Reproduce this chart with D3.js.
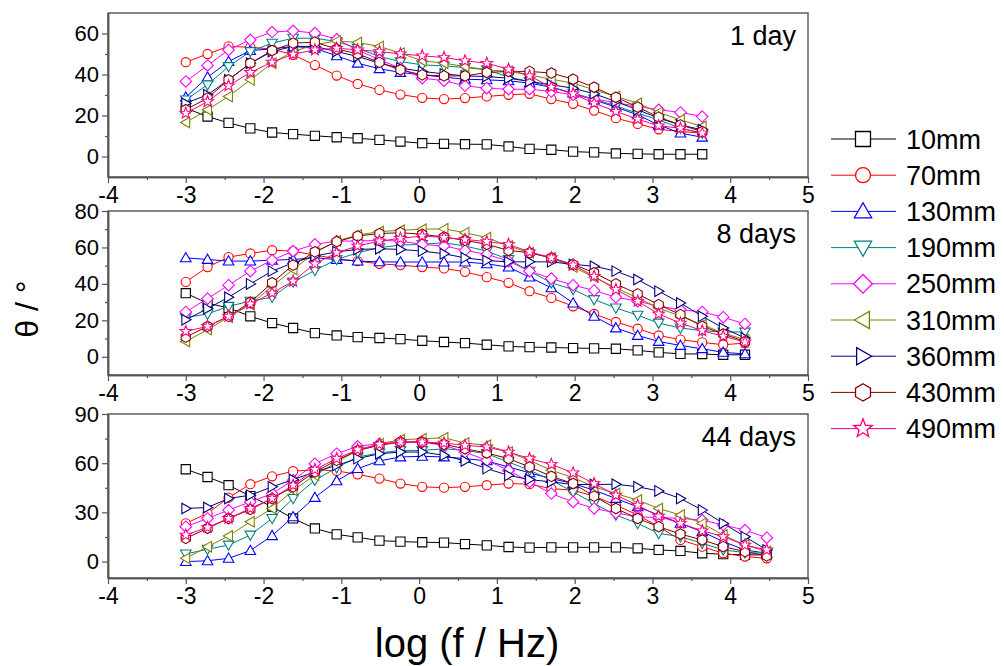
<!DOCTYPE html>
<html lang="en">
<head>
<meta charset="UTF-8">
<title>Contact angle vs frequency</title>
<script src="https://d3js.org/d3.v7.min.js"></script>
<style>
  body { margin: 0; background: #fff; font-family: Arial, "Liberation Sans", sans-serif; }
  .tick text { font-family: Arial, "Liberation Sans", sans-serif; fill: #000; }
  .tick line, .domain { stroke: #555; }
</style>
</head>
<body>
<div id="chart"></div>
<script>
// log frequency positions of the measured points
var logF = [-3.00, -2.72, -2.45, -2.17, -1.89, -1.62, -1.34, -1.06, -0.79, -0.51, -0.24, 0.04,
            0.32, 0.59, 0.87, 1.15, 1.42, 1.70, 1.98, 2.25, 2.53, 2.81, 3.08, 3.36, 3.64, 3.91, 4.19, 4.47];

var seriesNames = ["10mm", "70mm", "130mm", "190mm", "250mm", "310mm", "360mm", "430mm", "490mm"];
var seriesColors = ["#000000", "#ff0000", "#0000ff", "#008080", "#ff00ff", "#808000", "#000080", "#800000", "#ff0080"];
var seriesShapes = ["square", "circle", "up", "down", "diamond", "left", "right", "hexagon", "star"];

var panelLabels = ["1 day", "8 days", "44 days"];
var xTicks = [-4, -3, -2, -1, 0, 1, 2, 3, 4, 5];

// theta values, one row per series
var day1Values = [
  [23.6,19.5,16.4,13.7,11.7,10.9,10.1,9.4,8.9,8.1,7.3,6.5,6.2,6.0,5.9,4.9,3.7,3.3,2.4,2.0,1.5,1.3,1.1,1.1,1.1],
  [46,50,53.7,53.3,52.4,49.6,44.6,39.5,35.4,32.5,30.2,28.6,28.0,28.5,29.3,30.1,30.6,28,25.7,22.4,18.7,15.9,13.3,12.2,11.4],
  [28.9,38.7,46.3,51.7,52.5,53.7,52.8,49.1,45.5,42.8,41.0,39.8,38.7,37.7,37.4,36.9,35.8,33.8,30.9,27.6,24.1,20.3,15.4,11.4,9.4],
  [27.6,35,43.9,51.2,55.3,57.7,57.7,56.1,52.8,48.8,46.3,44.7,44.2,43.4,42.3,38.7,36.6,33.8,30.9,28,24.7,21.1,17.9,13.8,11.4],
  [36.6,44.4,52,56.9,60.7,61.3,60.2,57.2,52,47.2,43.1,38.2,37.0,34.5,33.3,32.8,32.8,31.7,30.1,28.1,26.3,24.4,22.8,21.5,19.5],
  [16.6,22.8,29.3,37.4,45.5,51.2,54.5,56.4,55.6,53.7,50.4,46.7,45.5,43.9,42.3,41.5,39.8,37.7,35.8,32.5,29.3,26,21.5,17.9,14.6],
  [26,30.1,37.4,45.5,51.2,53.7,53.7,51.2,48.8,45.5,43.1,41.5,40.3,39.3,39,38.2,36.6,35,33.3,30.6,26.8,22.8,18.7,15.4,13],
  [22.8,28.5,37.4,45.5,51.7,55.3,55.8,52.4,50.1,45.9,42.3,39.8,39.3,39.3,41,41.5,41.5,40.7,37.7,33.8,28.9,24.1,19.2,15.4,12.2],
  [21.1,26.8,34.5,41,46,49.9,52,52.8,52,51.2,50.1,49.1,48.3,46.7,45.5,42.6,39.3,33.8,30.6,26,22,18.2,15,13.8,11.4]
];

var day8Values = [
  [34.9,29.4,26.8,22.2,18.5,15.8,13,11.7,10.8,10.3,9.7,8.8,8.1,7.5,6.6,5.7,5.3,5.1,4.8,4.6,4.4,3.5,2.4,1.6,1.5,1.1,1.1],
  [41.1,49.2,54.7,56.7,58.5,58,55.8,53.8,52.5,51,50.3,49.2,48.5,46.6,43.7,40.6,36,32.3,27.7,23.5,19.1,15.4,11.7,9.4,7.9,6.6,7.5],
  [54.3,53.4,52.5,52.5,53,53.4,54.3,53.4,52.5,52.1,52,52,52,52,51,49.2,43.7,37.8,29.5,22.2,15.8,11.7,8.4,6.2,4.4,2.4,1.6],
  [21.5,23.5,27.7,30.5,32.7,41.1,47.4,53.4,57.1,59.9,61.3,61.7,62.6,60.8,58,53.4,47,40.6,36.9,31.4,26.8,22.8,18.5,15.8,14.3,13.6,13.6],
  [24.6,31.9,39.3,47,53,58,61.7,63.5,63.5,63.9,63.5,61.7,60.8,58.4,56.2,52.5,47,42.9,39.3,36.4,32.7,30.5,27.7,25.8,24.6,21.7,18],
  [8.4,14.9,21.7,28.6,38.7,47.9,57.1,63.5,66.8,68.7,69.4,70,70.2,68.1,65.4,60.8,57.1,54.3,49.2,43.7,37.8,32.3,26.8,22.2,17.6,13,9.4],
  [20.3,26.4,32.7,40,47,51.6,55.3,57.6,58.9,59.3,58.9,58,56.5,54.3,52.8,52.1,52.1,52.1,50.7,49.7,47,42.4,36,29.5,22.2,15.8,10.3],
  [10.8,16.7,22.2,29.9,40.6,50.3,57.6,63.2,66.3,67.6,68.1,67.2,65.7,63.9,61.7,58.4,57.1,54.3,50.7,46.1,40,34.5,28.6,23.1,16.7,12.5,8.4],
  [13.9,16.7,22.2,29,35,41.5,51,57.1,60.8,63.5,65,66.3,65.4,64.4,63.2,61.7,57.6,54.3,50.3,44.2,36.9,30.5,23.5,18.5,14.3,11.3,8.1]
];

var day44Values = [
  [56.3,51.6,46.6,39.9,33.4,26.3,20.2,16.6,14.8,12.8,12.2,11.8,11.6,10.7,9.9,8.9,8.5,8.7,8.7,8.7,8.7,8.1,7.1,6.5,5.1,4.5,4.1,4.1],
  [23.3,29.4,39,47.2,52,55.1,56.1,55.3,53.2,50.6,47.6,45.6,45.1,45.6,46.6,47.6,47.2,44.5,43.5,39.9,34.4,28.4,21.3,13.2,9.1,5.1,3.1,2.0],
  [0,0.5,2,6.7,15.8,27.3,39.1,49.2,56.7,61.4,63.8,64.2,63.8,62.8,61.4,57.7,54.1,50.6,47.6,43.5,38.5,33.4,28.4,23.3,18.2,12.2,7.1,5.1],
  [4.7,7.5,10.1,16.2,26.3,38.5,49.6,57.3,63.8,66.2,67.8,67.8,68.8,67.8,65.8,60.7,55.7,49.6,42.5,35.4,28.4,23.3,17.2,15.2,11.2,7.1,5.5,5.1],
  [21.3,26.3,31.4,36.4,41.5,49.6,59.7,65.8,70.3,71.9,72.9,72.9,70.9,66.8,61.7,55.7,48.6,41.5,36.4,32.4,29.7,27.3,26.9,26.3,25.3,22.3,19.2,14.6],
  [2,9.1,15.6,24.3,32.4,43.5,52.6,60.7,67.8,71.9,74.3,74.9,75.5,72.3,70.9,66.8,61.7,55.7,51.2,45.6,41.5,37.5,32.4,28.4,23.3,16.2,10.1,6.1],
  [32.4,33,38.5,40.5,45.6,50,54.7,58.7,62.8,65.8,66.8,66.8,64.8,61.4,56.7,52.6,50,48.6,47,47,47.2,45.6,43.1,38.5,31.4,23.3,15.2,7.1],
  [14.2,20.3,26.3,31.8,38.5,45.6,54.7,61.7,67.8,70.9,72.9,72.9,71.5,68.8,66.2,62.8,57.7,52,47.6,39.9,32.4,26.3,21.3,16.8,13.2,9.1,6.1,3.5],
  [16.2,20.9,26.3,32.4,38.5,46.6,56.1,62.8,68.2,71.5,72.9,72.9,72.3,70.9,69.9,66.8,62.8,59.3,54.1,47.6,40.5,34.4,27.7,23.3,18.8,15.2,10.1,7.1]
];

var yDomains = [[-10, 70], [-10, 80], [-10, 90]];
var yMajor = [[0, 20, 40, 60], [0, 20, 40, 60, 80], [0, 30, 60, 90]];
var yMinor = [[10, 30, 50], [10, 30, 50, 70], [15, 45, 75]];

var panelData = [day1Values, day8Values, day44Values];

// layout
var W = 1004, H = 666;
var plotLeft = 108, plotRight = 808;
var panelTops = [13, 211, 414];
var panelHeight = 164;

var svg = d3.select("#chart").append("svg")
    .attr("width", W)
    .attr("height", H);

var x = d3.scaleLinear().domain([-4, 5]).range([plotLeft, plotRight]);

function poly(pts) {
  return "M" + pts.map(function(p) { return p[0].toFixed(2) + "," + p[1].toFixed(2); }).join("L") + "Z";
}

function markerPath(shape, s) {
  var k = 1.15, j = 0.85;
  switch (shape) {
    case "square": return poly([[-s, -s], [s, -s], [s, s], [-s, s]]);
    case "circle": return "M" + s + ",0A" + s + "," + s + " 0 1,1 " + (-s) + ",0A" + s + "," + s + " 0 1,1 " + s + ",0Z";
    case "up": return poly([[0, -s * k], [s * k, s * j], [-s * k, s * j]]);
    case "down": return poly([[0, s * k], [s * k, -s * j], [-s * k, -s * j]]);
    case "left": return poly([[-s * k, 0], [s * j, -s * k], [s * j, s * k]]);
    case "right": return poly([[s * k, 0], [-s * j, -s * k], [-s * j, s * k]]);
    case "diamond": return poly([[0, -s * 1.25], [s * 1.25, 0], [0, s * 1.25], [-s * 1.25, 0]]);
    case "hexagon":
      return poly(d3.range(6).map(function(i) {
        var a = (-90 + 60 * i) * Math.PI / 180;
        return [Math.cos(a) * s * 1.15, Math.sin(a) * s * 1.15];
      }));
    case "star":
      return poly(d3.range(10).map(function(i) {
        var a = (-90 + 36 * i) * Math.PI / 180;
        var r = i % 2 === 0 ? s * 1.3 : s * 0.55;
        return [Math.cos(a) * r, Math.sin(a) * r];
      }));
  }
}

panelData.forEach(function(values, p) {
  var top = panelTops[p], bottom = top + panelHeight;
  var y = d3.scaleLinear().domain(yDomains[p]).range([bottom, top]);
  var g = svg.append("g");

  // frame
  g.append("rect")
    .attr("x", plotLeft).attr("y", top)
    .attr("width", plotRight - plotLeft).attr("height", panelHeight)
    .attr("fill", "none").attr("stroke", "#444").attr("stroke-width", 1.3);

  // x axis
  var xa = g.append("g")
    .attr("transform", "translate(0," + bottom + ")")
    .attr("font-size", 23)
    .call(d3.axisBottom(x).tickValues(xTicks).tickSize(6).tickSizeOuter(0).tickPadding(4)
      .tickFormat(function(d) { return d; }));
  xa.attr("font-size", 23).selectAll("text").style("font-size", "23px");
  g.append("g")
    .attr("transform", "translate(0," + bottom + ")")
    .call(d3.axisBottom(x).tickValues(d3.range(-3.5, 5, 1)).tickSize(3).tickSizeOuter(0).tickFormat(""));

  // y axis
  var ya = g.append("g")
    .attr("transform", "translate(" + plotLeft + ",0)")
    .call(d3.axisLeft(y).tickValues(yMajor[p]).tickSize(6).tickSizeOuter(0).tickPadding(3));
  ya.attr("font-size", 22).selectAll("text").style("font-size", "22px");
  g.append("g")
    .attr("transform", "translate(" + plotLeft + ",0)")
    .call(d3.axisLeft(y).tickValues(yMinor[p]).tickSize(3).tickSizeOuter(0).tickFormat(""));

  g.selectAll(".domain").attr("stroke", "#444").attr("stroke-width", 1.5);
  g.selectAll(".tick line").attr("stroke", "#444").attr("stroke-width", 1.2);

  // series
  values.forEach(function(vals, s) {
    var pts = vals.map(function(v, i) { return [logF[i], v]; });
    var sg = g.append("g");
    sg.append("path")
      .datum(pts)
      .attr("fill", "none")
      .attr("stroke", seriesColors[s])
      .attr("stroke-width", 1)
      .attr("d", d3.line().x(function(d) { return x(d[0]); }).y(function(d) { return y(d[1]); }));
    sg.selectAll("path.m")
      .data(pts)
      .enter().append("path")
      .attr("class", "m")
      .attr("transform", function(d) { return "translate(" + x(d[0]) + "," + y(d[1]) + ")"; })
      .attr("d", markerPath(seriesShapes[s], 4.6))
      .attr("fill", "#fff")
      .attr("stroke", seriesColors[s])
      .attr("stroke-width", 1.1);
  });

  // panel label
  g.append("text")
    .attr("x", 796).attr("y", top + 32)
    .attr("text-anchor", "end")
    .style("font-size", "27px")
    .text(panelLabels[p]);
});

// axis titles
svg.append("text")
  .attr("x", 467).attr("y", 657)
  .attr("text-anchor", "middle")
  .style("font-size", "40px")
  .text("log (f / Hz)");

svg.append("text")
  .attr("transform", "translate(38,309) rotate(-90)")
  .attr("text-anchor", "middle")
  .style("font-size", "32px")
  .text("θ / °");

// legend
var legend = svg.append("g");
seriesNames.forEach(function(name, i) {
  var ly = 139 + i * 36.2;
  legend.append("line")
    .attr("x1", 831).attr("x2", 896).attr("y1", ly).attr("y2", ly)
    .attr("stroke", seriesColors[i]).attr("stroke-width", 1);
  legend.append("path")
    .attr("transform", "translate(863," + ly + ")")
    .attr("d", markerPath(seriesShapes[i], 7.5))
    .attr("fill", "#fff")
    .attr("stroke", seriesColors[i])
    .attr("stroke-width", 1.3);
  legend.append("text")
    .attr("x", 906).attr("y", ly + 9.5)
    .style("font-size", "27px")
    .text(name);
});
</script>
</body>
</html>
